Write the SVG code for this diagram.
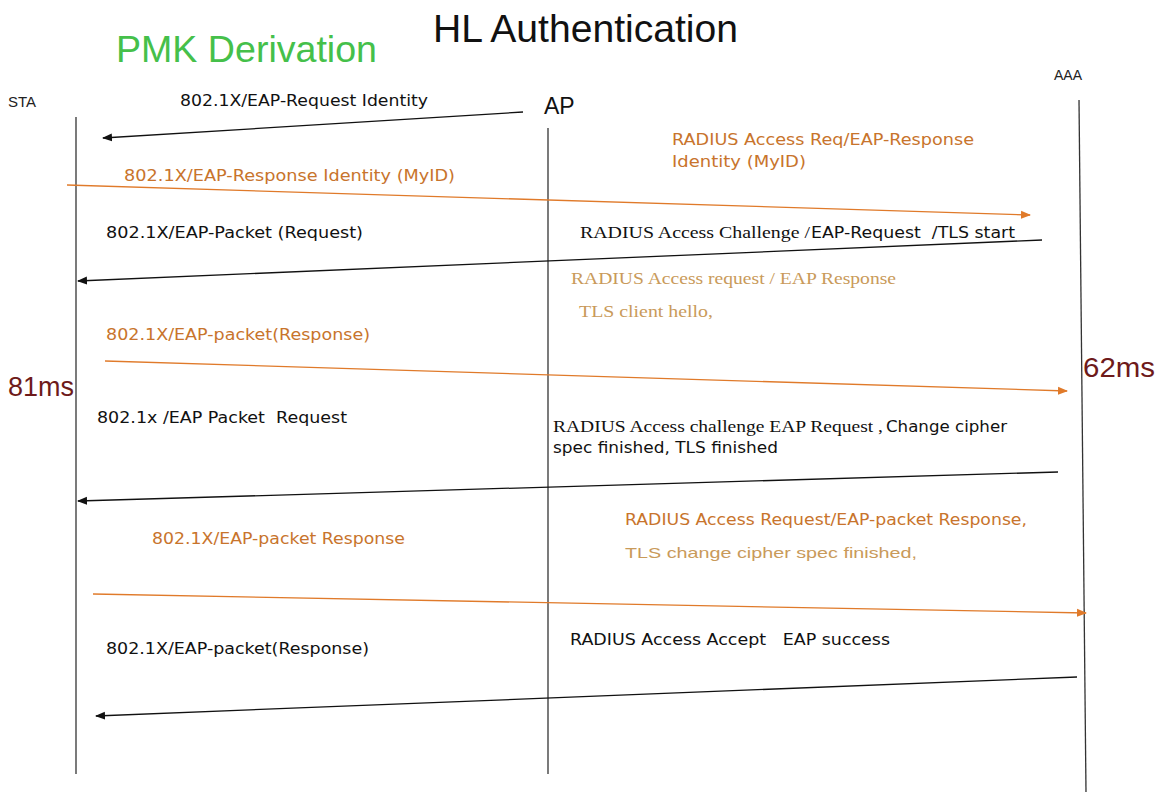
<svg xmlns="http://www.w3.org/2000/svg" width="1158" height="798" viewBox="0 0 1158 798">
  <style>
    .sans { font-family: "DejaVu Sans", "Liberation Sans", sans-serif; }
    .arial { font-family: "Liberation Sans", Arial, sans-serif; }
    .serif { font-family: "Liberation Serif", "Times New Roman", serif; }
    .msg { font-size: 15px; }
    .smsg { font-size: 16px; }
    .blk { fill: #111; }
    .org { fill: #c8742c; }
    .org2 { fill: #c99a5a; }
    .time { font-size: 28px; fill: #6e1a1a; }
    .life { stroke: #333; stroke-width: 1.3; fill: none; }
    .arr-b { stroke: #111; stroke-width: 1.3; fill: none; marker-end: url(#headB); }
    .arr-o { stroke: #e07a2a; stroke-width: 1.3; fill: none; marker-end: url(#headO); }
  </style>
  <defs>
    <marker id="headB" viewBox="0 0 10 10" refX="9" refY="5" markerWidth="10" markerHeight="10" markerUnits="userSpaceOnUse" orient="auto">
      <path d="M0,1 L10,5 L0,9 z" fill="#111"/>
    </marker>
    <marker id="headO" viewBox="0 0 10 10" refX="9" refY="5" markerWidth="10" markerHeight="10" markerUnits="userSpaceOnUse" orient="auto">
      <path d="M0,1 L10,5 L0,9 z" fill="#e07a2a"/>
    </marker>
  </defs>
  <rect width="1158" height="798" fill="#fff"/>

  <!-- titles -->
  <text class="arial" x="433" y="42" font-size="38.5" textLength="305" lengthAdjust="spacingAndGlyphs" fill="#111">HL Authentication</text>
  <text class="arial" x="116" y="62" font-size="37" textLength="261" lengthAdjust="spacingAndGlyphs" fill="#45c04a">PMK Derivation</text>

  <!-- participants -->
  <g id="sta">
    <text class="arial" x="8" y="107" font-size="15" fill="#222">STA</text>
    <line class="life" x1="76" y1="117" x2="76" y2="774"/>
  </g>
  <g id="ap">
    <text class="arial" x="544" y="114" font-size="23" fill="#111">AP</text>
    <line class="life" x1="548" y1="128" x2="548" y2="774"/>
  </g>
  <g id="aaa">
    <text class="arial" x="1054" y="80" font-size="14" fill="#222">AAA</text>
    <line class="life" x1="1079" y1="100" x2="1086" y2="792"/>
  </g>

  <!-- timing notes -->
  <text class="arial time" x="8" y="396" textLength="66" lengthAdjust="spacingAndGlyphs">81ms</text>
  <text class="arial time" x="1083" y="377" textLength="72" lengthAdjust="spacingAndGlyphs">62ms</text>

  <!-- message arrows -->
  <g id="connectors">
    <line class="arr-b" x1="523" y1="112" x2="103" y2="138"/>
    <line class="arr-o" x1="67" y1="185" x2="1030" y2="215"/>
    <line class="arr-b" x1="1042" y1="240" x2="78" y2="281"/>
    <line class="arr-o" x1="105" y1="361" x2="1067" y2="391"/>
    <line class="arr-b" x1="1058" y1="472" x2="78" y2="501"/>
    <line class="arr-o" x1="93" y1="594" x2="1086" y2="613"/>
    <line class="arr-b" x1="1077" y1="677" x2="96" y2="716"/>
  </g>

  <!-- message labels -->
  <g id="labels">
    <text class="sans msg blk" x="180" y="106" textLength="248" lengthAdjust="spacingAndGlyphs">802.1X/EAP-Request Identity</text>
    <text class="sans msg org" x="124" y="181" textLength="331" lengthAdjust="spacingAndGlyphs">802.1X/EAP-Response Identity (MyID)</text>
    <text class="sans msg org" x="672" y="145" textLength="302" lengthAdjust="spacingAndGlyphs">RADIUS Access Req/EAP-Response</text>
    <text class="sans msg org" x="672" y="167" textLength="134" lengthAdjust="spacingAndGlyphs">Identity (MyID)</text>
    <text class="sans msg blk" x="106" y="238" textLength="257" lengthAdjust="spacingAndGlyphs">802.1X/EAP-Packet (Request)</text>
    <text class="serif smsg blk" x="580" y="238" textLength="230" lengthAdjust="spacingAndGlyphs">RADIUS Access Challenge /</text>
    <text class="sans msg blk" x="811" y="238" textLength="204" lengthAdjust="spacingAndGlyphs" xml:space="preserve">EAP-Request  /TLS start</text>
    <text class="serif smsg org2" x="571" y="284" textLength="325" lengthAdjust="spacingAndGlyphs">RADIUS Access request / EAP Response</text>
    <text class="serif smsg org2" x="579" y="317" textLength="134" lengthAdjust="spacingAndGlyphs">TLS client hello,</text>
    <text class="sans msg org" x="106" y="340" textLength="264" lengthAdjust="spacingAndGlyphs">802.1X/EAP-packet(Response)</text>
    <text class="sans msg blk" x="97" y="423" textLength="250" lengthAdjust="spacingAndGlyphs" xml:space="preserve">802.1x /EAP Packet  Request</text>
    <text class="serif smsg blk" x="553" y="432" textLength="330" lengthAdjust="spacingAndGlyphs">RADIUS Access challenge EAP Request ,</text>
    <text class="sans msg blk" x="886" y="432" textLength="121" lengthAdjust="spacingAndGlyphs">Change cipher</text>
    <text class="sans msg blk" x="553" y="453" textLength="225" lengthAdjust="spacingAndGlyphs">spec finished, TLS finished</text>
    <text class="sans msg org" x="625" y="525" textLength="402" lengthAdjust="spacingAndGlyphs">RADIUS Access Request/EAP-packet Response,</text>
    <text class="arial msg org2" x="625" y="558" textLength="292" lengthAdjust="spacingAndGlyphs">TLS change cipher spec finished,</text>
    <text class="sans msg org" x="152" y="544" textLength="253" lengthAdjust="spacingAndGlyphs">802.1X/EAP-packet Response</text>
    <text class="sans msg blk" x="570" y="645" textLength="320" lengthAdjust="spacingAndGlyphs" xml:space="preserve">RADIUS Access Accept   EAP success</text>
    <text class="sans msg blk" x="106" y="654" textLength="263" lengthAdjust="spacingAndGlyphs">802.1X/EAP-packet(Response)</text>
  </g>
</svg>
